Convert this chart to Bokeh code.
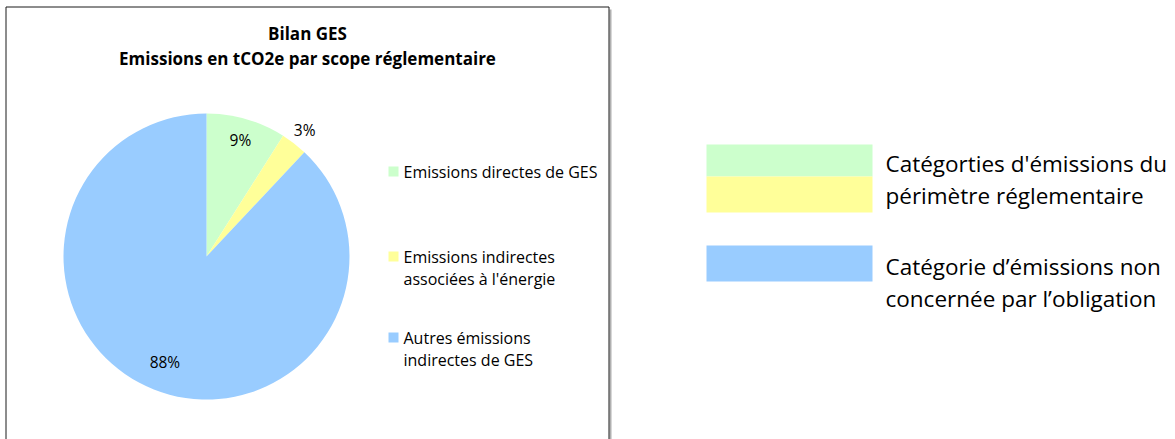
import math
from bokeh.plotting import figure
from bokeh.models import Range1d
from bokeh.embed import file_html
from bokeh.resources import INLINE
from bokeh.core.properties import value

# ---- data ----
title_lines = ["Bilan GES", "Emissions en tCO2e par scope réglementaire"]
categories = ["Emissions directes de GES",
              "Emissions indirectes associées à l'énergie",
              "Autres émissions indirectes de GES"]
legend_lines = [["Emissions directes de GES"],
                ["Emissions indirectes", "associées à l'énergie"],
                ["Autres émissions", "indirectes de GES"]]
shares = [9, 3, 88]
pct_labels = ["9%", "3%", "88%"]
colors = ["#CCFFCC", "#FFFF99", "#99CCFF"]
side_labels = [["Catégorties d'émissions du", "périmètre réglementaire"],
               ["Catégorie d’émissions non", "concernée par l’obligation"]]

FONT = value("Open Sans")
W, H = 1175, 439
p = figure(width=W, height=H, x_range=Range1d(0, W), y_range=Range1d(H, 0),
           output_backend="svg", toolbar_location=None, min_border=0)
p.axis.visible = False
p.grid.visible = False
p.outline_line_color = None
p.background_fill_color = "white"

# chart frame
p.line(x=[610, 610], y=[9, 445], line_color="#B0B0B0", line_width=2)
p.quad(left=5.5, right=608.5, top=6.5, bottom=445, fill_color=None,
       line_color="#1a1a1a", line_width=1)

# titles
p.text(x=[307, 307], y=[33, 58], text=title_lines, text_font=FONT,
       text_font_size="17px", text_font_style="bold", text_align="center",
       text_baseline="middle", text_color="black")

# pie
cx, cy, R = 206, 256, 143
total = float(sum(shares))
starts, ends, mids = [], [], []
cum = 0.0
for s in shares:
    a0 = math.pi / 2 - 2 * math.pi * cum / total
    cum += s
    a1 = math.pi / 2 - 2 * math.pi * cum / total
    starts.append(a0)
    ends.append(a1)
    mids.append((a0 + a1) / 2)
p.wedge(x=cx, y=cy, radius=R, start_angle=starts, end_angle=ends,
        direction="clock", fill_color=colors, line_color=None)

# percentage labels (screen y points down)
factors = [0.85, 1.12, 0.79]
lx = [cx + R * f * math.cos(m) for f, m in zip(factors, mids)]
ly = [cy - R * f * math.sin(m) for f, m in zip(factors, mids)]
p.text(x=lx, y=ly, text=pct_labels, text_font=FONT, text_font_size="15.5px",
       text_align="center", text_baseline="middle", text_color="black")

# legend
leg_y0 = [171, 256, 337]
for i, lines in enumerate(legend_lines):
    y0 = leg_y0[i]
    p.quad(left=388, right=398, top=y0 - 5, bottom=y0 + 5,
           fill_color=colors[i], line_color=None)
    p.text(x=[403] * len(lines), y=[y0 + 22 * k for k in range(len(lines))],
           text=lines, text_font=FONT, text_font_size="16px",
           text_align="left", text_baseline="middle", text_color="black")

# side key
p.quad(left=706, right=872, top=144, bottom=176, fill_color=colors[0], line_color=None)
p.quad(left=706, right=872, top=176, bottom=212, fill_color=colors[1], line_color=None)
p.quad(left=706, right=872, top=245, bottom=281, fill_color=colors[2], line_color=None)
side_y = [[163, 195], [266, 298]]
for lines, ys in zip(side_labels, side_y):
    p.text(x=[885] * len(lines), y=ys, text=lines, text_font=FONT,
           text_font_size="22.5px", text_align="left", text_baseline="middle",
           text_color="black")

open("out.html", "w").write(file_html(p, INLINE))
